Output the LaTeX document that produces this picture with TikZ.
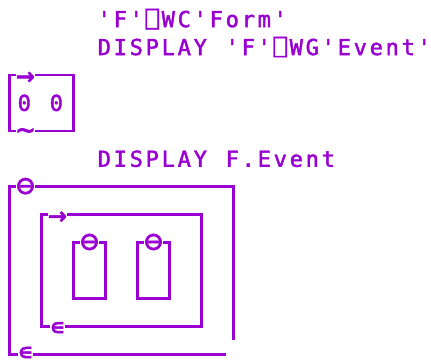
\documentclass[tikz,border=0pt]{standalone}
\usepackage{fontspec}
\usepackage{xcolor}
\newfontfamily\apltext{DejaVu Sans Mono}[LetterSpace=12.52,Ligatures=TeXOff,FakeBold=2]
\newfontfamily\aplsym{DejaVu Sans Mono}[Ligatures=TeXOff,FakeBold=2]
\definecolor{aplpurple}{HTML}{9A00D2}
\tikzset{
  boxline/.style={aplpurple, line width=2.6pt},
  txt/.style={anchor=base west, inner sep=0pt, yshift=-8pt, text=aplpurple,
    font=\apltext\fontsize{22}{26}\selectfont},
  sym/.style={anchor=base, inner sep=0.6pt, yshift=-8pt, fill=white, text=aplpurple,
    font=\aplsym\fontsize{26}{30}\selectfont},
  rarrow/.style={sym, inner sep=0pt, yshift=-2.5pt, font=\aplsym\fontsize{31}{34}\selectfont},
  theta/.style={sym, inner xsep=0.2pt, inner ysep=0pt, yshift=-1.2pt, font=\aplsym\fontsize{31}{34}\selectfont},
  elem/.style={sym, yshift=-0.8pt, font=\aplsym\fontsize{24}{28}\selectfont}
}

\begin{document}
\begin{tikzpicture}[x=16pt, y=-27.93pt]
        \useasboundingbox (-9.5pt,19.1pt) rectangle (421.5pt,-342.9pt);
        %input lines
        \node[txt] (form) at (5.5,0) {'F'⎕WC'Form'};
        \node[txt] (disp1) at (5.5,1) {DISPLAY};
        \node[txt] (wg) at (13.5,1) {'F'⎕WG'Event'};
        %simple vector 0 0
        \draw[boxline] (0,2) rectangle (4,4);
        \node[rarrow] (arr1) at (1,2) {→};
        \node[sym, yshift=-1pt, font=\aplsym\fontsize{30}{34}\selectfont] (tilde) at (1,4) {\textasciitilde};
        \node[txt] (zeroa) at (0.5,3) {0};
        \node[txt] (zerob) at (2.5,3) {0};
        %second input line
        \node[txt] (disp2) at (5.5,5) {DISPLAY};
        \node[txt] (event) at (13.5,5) {F.Event};
        %outer box, no lower right corner
        \draw[boxline] (13.5,12) -- (0,12) -- (0,6) -- (14,6) -- (14,11.5);
        \node[theta] (theta0) at (1,6) {⊖};
        \node[elem, yshift=3pt] (eps0) at (1,12) {∊};
        %nested vector
        \draw[boxline] (2,7) rectangle (12,11);
        \node[rarrow] (arr2) at (3,7) {→};
        \node[elem] (eps1) at (3,11) {∊};
        %empty items
        \foreach \c in {4,8} {
          \draw[boxline] (\c,8) rectangle (\c+2,10);
          \node[theta] (theta\c) at (\c+1,8) {⊖};
        }
\end{tikzpicture}
\end{document}
